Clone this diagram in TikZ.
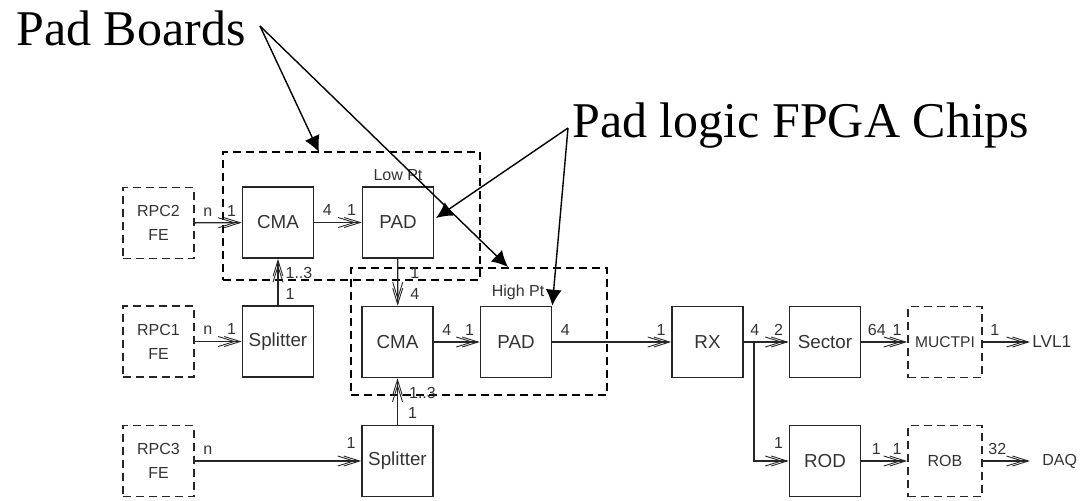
\documentclass[tikz,border=0pt]{standalone}
\usepackage{fontspec}
\setmainfont{Liberation Serif}
\setsansfont{Liberation Sans}
\usetikzlibrary{arrows.meta}

\begin{document}
\begin{tikzpicture}[x=0.5pt,y=-0.5pt,
  blk/.style={draw=black!85, line width=0.8pt, minimum width=35.5pt, minimum height=35.5pt,
    inner sep=0pt, font=\sffamily\fontsize{9.4}{11}\selectfont, text=black!80},
  ext/.style={blk, dash pattern=on 4pt off 2.5pt, align=center,
    font=\sffamily\fontsize{8}{12}\selectfont},
  grp/.style={draw=black, line width=0.6pt, dash pattern=on 4pt off 2.5pt, inner sep=0pt},
  conn/.style={draw=black!85, line width=0.65pt,
    -{Straight Barb[length=8pt,width=5pt,line width=0.45pt,sep=-6pt]
      Straight Barb[length=8pt,width=5pt,line width=0.45pt]}},
  lbl/.style={font=\sffamily\fontsize{8}{9}\selectfont, inner sep=0pt, text=black!80},
  ls/.style={lbl, at start, anchor=south west, xshift=4pt, yshift=3pt},
  le/.style={lbl, at end, anchor=south east, xshift=-2.5pt, yshift=3pt},
  note/.style={draw=black, line width=0.7pt, -{Latex[length=8pt,width=8pt]}},
  ann/.style={font=\fontsize{25}{30}\selectfont, inner sep=0pt}]

\useasboundingbox (0,0) rectangle (1084,500);

% board outlines
\node[grp, minimum width=128.5pt, minimum height=64pt] (lowgrp) at (351.5,216) {};
\node[grp, minimum width=128pt, minimum height=63.5pt] (highgrp) at (479,331.5) {};

% front-end and external units
\node[ext] (rpc2) at (158.5,223) {RPC2\\FE};
\node[ext] (rpc1) at (158.5,341.5) {RPC1\\FE};
\node[ext] (rpc3) at (158.5,461) {RPC3\\FE};
\node[ext, minimum width=37pt, font=\sffamily\fontsize{7.8}{9}\selectfont] (muctpi) at (945,342) {MUCTPI};
\node[ext, minimum width=37pt] (rob) at (945,461) {ROB};

% processing blocks
\node[blk] (cma1) at (278,222.5) {CMA};
\node[blk] (pad1) at (398,222.5) {PAD};
\node[blk] (spl1) at (278,341.5) {Splitter};
\node[blk] (cma2) at (397.5,342) {CMA};
\node[blk] (pad2) at (516,342) {PAD};
\node[blk] (spl2) at (397.5,461) {Splitter};
\node[blk] (rx) at (707.5,342) {RX};
\node[blk] (sector) at (825,342) {Sector};
\node[blk] (rod) at (825,461) {ROD};

\node[lbl, anchor=south] at ([yshift=2.5pt]pad1.north) {Low Pt};
\node[lbl, anchor=south] at ([yshift=2.5pt,xshift=1pt]pad2.north) {High Pt};

% outputs
\node[lbl, font=\sffamily\fontsize{8.6}{10}\selectfont, anchor=west, inner xsep=1pt] (lvl1) at (1030,342) {LVL1};
\node[lbl, font=\sffamily\fontsize{8}{10}\selectfont, anchor=west, inner xsep=6pt] (daq) at (1030,461) {DAQ};

% data links
\draw[conn] (rpc2) -- node[ls]{n} node[le]{1} (cma1);
\draw[conn] (cma1) -- node[ls]{4} node[le]{1} (pad1);
\draw[conn] (rpc1) -- node[ls]{n} node[le]{1} (spl1);
\draw[conn] (cma2) -- node[ls]{4} node[le]{1} (pad2);
\draw[conn] (pad2) -- node[ls]{4} node[le]{1} (rx);
\draw[conn] (rx) -- node[ls, xshift=-1pt]{4} node[le]{2} (sector);
\draw[conn] (sector) -- node[ls, xshift=-1pt]{64} node[le]{1} (muctpi);
\draw[conn] (muctpi) -- node[ls, xshift=-0.5pt]{1} (lvl1);
\draw[conn] (rpc3) -- node[ls]{n} node[le, yshift=3pt]{1} (spl2);
\draw[conn] (rod) -- node[ls, xshift=1pt]{1} node[le]{1} (rob);
\draw[conn] (rob) -- node[ls, xshift=-1.5pt]{32} (daq);

\draw[conn] (spl1) -- node[lbl, at start, anchor=south west, xshift=3.5pt, yshift=2.5pt]{1}
  node[lbl, at end, anchor=north west, xshift=3.5pt, yshift=-4pt]{1..3} (cma1);
\draw[conn] (pad1) -- node[lbl, at start, anchor=north west, xshift=6pt, yshift=-4pt]{1}
  node[lbl, at end, anchor=south west, xshift=6pt, yshift=3pt]{4} (cma2);
\draw[conn] (spl2) -- node[lbl, at start, anchor=south west, xshift=5pt, yshift=3pt]{1}
  node[lbl, at end, anchor=north west, xshift=5.5pt, yshift=-4pt]{1..3} (cma2);

\coordinate (branch) at (754,342);
\draw[conn] (branch) |- node[le, yshift=3pt]{1} (rod);

% annotations
\node[ann, anchor=base west] (pb) at (16,45) {Pad Boards};
\node[ann, anchor=base west] (pl) at (572,137) {Pad logic FPGA Chips};

\coordinate (pbsrc) at (260,26);
\coordinate (pbtip1) at (319,152);
\coordinate (pbtip2) at (508,267);
\coordinate (plsrc) at (568,128);
\coordinate (pltip1) at (436,218);

\draw[note] (pbsrc) -- (pbtip1);
\draw[note] (pbsrc) -- (pbtip2);
\draw[note] (plsrc) -- (pltip1);
\draw[note] (plsrc) -- (pad2.north east);
\end{tikzpicture}
\end{document}
